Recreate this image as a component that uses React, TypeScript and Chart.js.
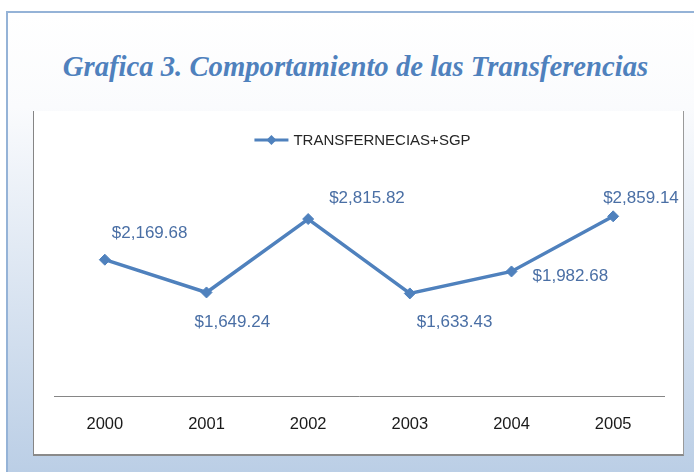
import React, { useEffect, useRef } from "react";
import { Chart, registerables } from "chart.js";

Chart.register(...registerables);

const years: string[] = ["2000", "2001", "2002", "2003", "2004", "2005"];
const transferencias: number[] = [2169.68, 1649.24, 2815.82, 1633.43, 1982.68, 2859.14];
const seriesName = "TRANSFERNECIAS+SGP";
const chartTitle = "Grafica 3. Comportamiento de las Transferencias";

const LINE_COLOR = "#4f81bd";
const LABEL_COLOR = "#4a6fa5";
const SANS = "'Liberation Sans', Arial, sans-serif";

// label placement relative to each point (left edge / vertical center)
const LABEL_OFFSETS: [number, number][] = [
  [7, -26],
  [-12, 30],
  [21, -21],
  [7, 29],
  [21, 5],
  [-10, -18],
];

const fmt = (v: number) =>
  "$" + v.toLocaleString("en-US", { minimumFractionDigits: 2, maximumFractionDigits: 2 });

const labelsPlugin = {
  id: "pointLabels",
  afterDatasetsDraw(chart: any) {
    const ctx = chart.ctx;
    const meta = chart.getDatasetMeta(0);
    const data = chart.data.datasets[0].data as number[];
    ctx.save();
    ctx.font = `17px ${SANS}`;
    ctx.fillStyle = LABEL_COLOR;
    ctx.textAlign = "left";
    ctx.textBaseline = "middle";
    meta.data.forEach((pt: any, i: number) => {
      const [dx, dy] = LABEL_OFFSETS[i] || [6, -20];
      ctx.fillText(fmt(data[i]), pt.x + dx, pt.y + dy);
    });
    ctx.restore();
  },
};

const legendPlugin = {
  id: "customLegend",
  afterDraw(chart: any) {
    const ctx = chart.ctx;
    ctx.save();
    ctx.font = `15px ${SANS}`;
    const tw = ctx.measureText(seriesName).width;
    const lineW = 34;
    const gap = 5;
    const total = lineW + gap + tw;
    const cx = 328.5;
    const y = 29;
    const x0 = cx - total / 2;
    ctx.strokeStyle = LINE_COLOR;
    ctx.lineWidth = 3;
    ctx.beginPath();
    ctx.moveTo(x0, y);
    ctx.lineTo(x0 + lineW, y);
    ctx.stroke();
    ctx.fillStyle = LINE_COLOR;
    ctx.beginPath();
    const mx = x0 + lineW / 2;
    const r = 5;
    ctx.moveTo(mx, y - r);
    ctx.lineTo(mx + r, y);
    ctx.lineTo(mx, y + r);
    ctx.lineTo(mx - r, y);
    ctx.closePath();
    ctx.fill();
    ctx.fillStyle = "#262626";
    ctx.textAlign = "left";
    ctx.textBaseline = "middle";
    ctx.fillText(seriesName, x0 + lineW + gap, y + 1);
    ctx.restore();
  },
};

export default function App() {
  const canvasRef = useRef<HTMLCanvasElement | null>(null);

  useEffect(() => {
    if (!canvasRef.current) return;
    const chart = new Chart(canvasRef.current, {
      type: "line",
      data: {
        labels: years,
        datasets: [
          {
            label: seriesName,
            data: transferencias,
            borderColor: LINE_COLOR,
            backgroundColor: LINE_COLOR,
            borderWidth: 3.5,
            pointStyle: "rectRot",
            pointRadius: 5.5,
            pointBackgroundColor: LINE_COLOR,
            pointBorderColor: LINE_COLOR,
            pointBorderWidth: 1,
            tension: 0,
          },
        ],
      },
      options: {
        animation: false,
        responsive: false,
        maintainAspectRatio: false,
        layout: { padding: { top: 65, left: 20, right: 19, bottom: 2 } },
        plugins: {
          legend: { display: false },
          title: { display: false },
          tooltip: { enabled: false },
        },
        scales: {
          x: {
            offset: true,
            grid: { display: false, drawTicks: false },
            border: { display: true, color: "#868686", width: 1 },
            ticks: {
              color: "#1a1a1a",
              font: { family: SANS, size: 16.5 },
              padding: 18,
            },
          },
          y: {
            display: false,
            min: 0,
            max: 3500,
          },
        },
      },
      plugins: [labelsPlugin, legendPlugin],
    });
    return () => chart.destroy();
  }, []);

  return (
    <div
      style={{
        position: "absolute",
        left: 0,
        top: 0,
        width: 694,
        height: 472,
        overflow: "hidden",
        background: "#ffffff",
      }}
    >
      <div
        style={{
          position: "absolute",
          left: 6,
          top: 11,
          width: 700,
          height: 470,
          borderLeft: "2px solid #95b3d7",
          borderTop: "2px solid #95b3d7",
          background: "linear-gradient(to bottom, #ffffff 0%, #fafbfd 20%, #b9cde5 100%)",
        }}
      />
      <div
        style={{
          position: "absolute",
          left: 0,
          width: 711,
          top: 47,
          textAlign: "center",
          fontFamily: "'Liberation Serif', 'Times New Roman', serif",
          fontWeight: "bold",
          fontStyle: "italic",
          fontSize: 28.7,
          lineHeight: "38px",
          color: "#4f81bd",
          whiteSpace: "nowrap",
        }}
      >
        {chartTitle}
      </div>
      <div
        style={{
          position: "absolute",
          left: 33,
          top: 111,
          width: 651,
          height: 345,
          boxSizing: "border-box",
          background: "#ffffff",
          borderLeft: "1px solid #858585",
          borderRight: "1px solid #9a9a9a",
          borderBottom: "2px solid #8a8a8a",
        }}
      />
      <canvas
        ref={canvasRef}
        width={649}
        height={343}
        style={{ position: "absolute", left: 34, top: 111, width: 649, height: 343 }}
      />
    </div>
  );
}
